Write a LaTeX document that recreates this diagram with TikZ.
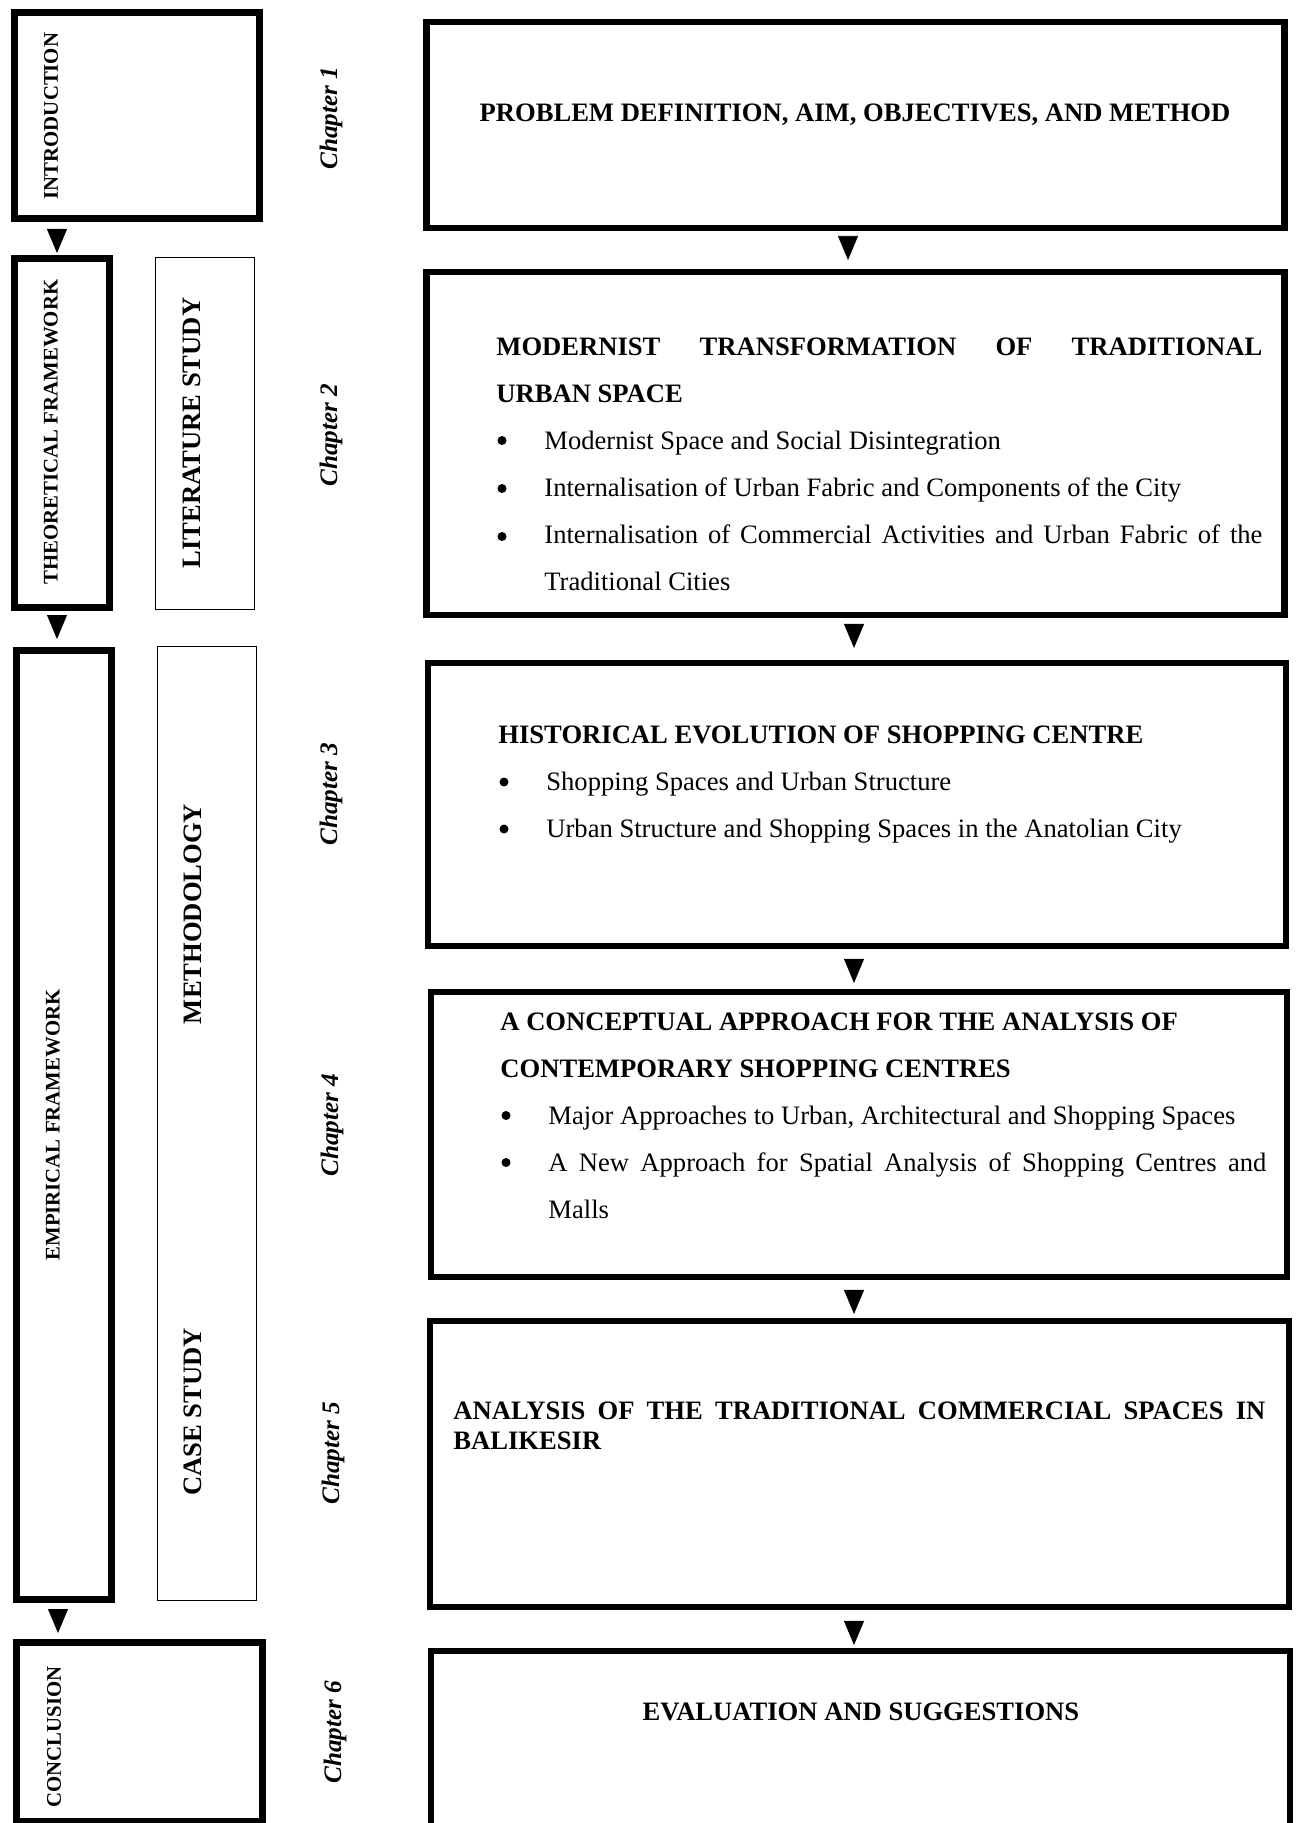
\documentclass[tikz,border=0pt]{standalone}
\usepackage{fontspec}
\setmainfont{Liberation Serif}
\usetikzlibrary{arrows.meta,fit}
\newcommand{\bulletline}[1]{\par\noindent\hspace*{24pt}\parbox[t]{359pt}{\fontsize{13.3}{23.5}\selectfont #1}}

\begin{document}
\begin{tikzpicture}[x=0.5pt,y=0.5pt,yscale=-1,xscale=1,
  heavybox/.style={draw,line width=3.6pt,inner sep=0pt},
  thickbox/.style={draw,line width=3.25pt,inner sep=0pt},
  thinbox/.style={draw,line width=0.6pt,inner sep=0pt},
  sidelbl/.style={rotate=90,inner sep=0pt,font=\bfseries\fontsize{10.4}{12}\selectfont},
  partlbl/.style={rotate=90,inner sep=0pt,font=\bfseries\fontsize{13.3}{15}\selectfont},
  chaplbl/.style={rotate=90,inner sep=0pt,font=\bfseries\itshape\fontsize{12.6}{15}\selectfont},
  boxhead/.style={anchor=base,inner sep=0pt,font=\bfseries\fontsize{13.3}{15}\selectfont},
  boxbody/.style={anchor=base west,inner sep=0pt,text width=383pt,align=justify,
    execute at begin node={\parindent=0pt},font=\fontsize{13.3}{23.5}\selectfont},
  flowarrow/.style 2 args={-{Triangle[length=12pt,width=10pt]},line width=0.4pt,shorten <=#1,shorten >=#2}]
\useasboundingbox (0,0) rectangle (1295,1823);

\node[heavybox,fit={(14.6,12.6) (259.4,218.4)}] (intro) {};
\node[heavybox,fit={(14.6,258.6) (109.4,607.4)}] (theo) {};
\node[heavybox,fit={(16.6,650.6) (111.4,1599.4)}] (emp) {};
\node[heavybox,fit={(16.6,1642.6) (262.4,1821.4)}] (concl) {};
\node[thinbox,fit={(155.6,257.6) (254.4,609.4)}] (lit) {};
\node[thinbox,fit={(157.6,646.6) (256.4,1600.4)}] (meth) {};

\node[sidelbl] (introlbl) at (51,116) {INTRODUCTION};
\node[sidelbl] (theolbl) at (51,432) {THEORETICAL FRAMEWORK};
\node[sidelbl] (emplbl) at (53,1125) {EMPIRICAL FRAMEWORK};
\node[sidelbl] (concllbl) at (54,1737) {CONCLUSION};
\node[partlbl] (litlbl) at (192,433) {LITERATURE STUDY};
\node[partlbl] (methlbl) at (193,914) {METHODOLOGY};
\node[partlbl] (caselbl) at (193,1412) {CASE STUDY};

\node[chaplbl] (ch1) at (331,118) {Chapter 1};
\node[chaplbl] (ch2) at (331,435) {Chapter 2};
\node[chaplbl] (ch3) at (331,794) {Chapter 3};
\node[chaplbl] (ch4) at (332,1125) {Chapter 4};
\node[chaplbl] (ch5) at (333,1453) {Chapter 5};
\node[chaplbl] (ch6) at (335,1732) {Chapter 6};

\node[thickbox,fit={(426.5,22) (1284.5,228)}] (r1) {};
\node[thickbox,fit={(426.5,272) (1284.5,615)}] (r2) {};
\node[thickbox,fit={(428,663) (1286,946)}] (r3) {};
\node[thickbox,fit={(431,992) (1287,1277)}] (r4) {};
\node[thickbox,fit={(430,1321) (1289,1607)}] (r5) {};
\node[thickbox,fit={(431,1651) (1290,1840)}] (r6) {};

\node[boxhead] (t1) at (855,122) {PROBLEM DEFINITION, AIM, OBJECTIVES, AND METHOD};
\node[boxbody] (t2) at (496,356) {{\bfseries MODERNIST TRANSFORMATION OF TRADITIONAL\linebreak URBAN SPACE}
  \bulletline{Modernist Space and Social Disintegration}
  \bulletline{Internalisation of Urban Fabric and Components of the City}
  \bulletline{Internalisation of Commercial Activities and Urban Fabric of the\linebreak Traditional Cities}};
\node[boxbody] (t3) at (498,743.5) {{\bfseries HISTORICAL EVOLUTION OF SHOPPING CENTRE}
  \bulletline{Shopping Spaces and Urban Structure}
  \bulletline{Urban Structure and Shopping Spaces in the Anatolian City}};
\node[boxbody] (t4) at (500,1030) {{\bfseries A CONCEPTUAL APPROACH FOR THE ANALYSIS OF\newline CONTEMPORARY SHOPPING CENTRES}
  \bulletline{Major Approaches to Urban, Architectural and Shopping Spaces}
  \bulletline{A New Approach for Spatial Analysis of Shopping Centres and\linebreak Malls}};
\node[boxbody,text width=406pt,font=\bfseries\fontsize{13.3}{15}\selectfont] (t5) at (453,1419) {ANALYSIS OF THE TRADITIONAL COMMERCIAL SPACES IN\linebreak BALIKESIR};
\node[boxhead] (t6) at (861,1720) {EVALUATION AND SUGGESTIONS};

\foreach \bx/\by in {502/440.5,502/488.5,502/536.5,504/782,504/829,506/1115.5,506/1162.5}
  \fill (\bx,\by) circle (4.5);

\draw[flowarrow={3.5pt}{1pt}] ([xshift=-2.5pt]theo.north |- intro.south) -- ([xshift=-2.5pt]theo.north);
\draw[flowarrow={2pt}{4pt}] ([xshift=-2.5pt]theo.south) -- ([xshift=-2.5pt]theo.south |- emp.north);
\draw[flowarrow={3pt}{3pt}] ([xshift=-3pt]emp.south) -- ([xshift=-3pt]emp.south |- concl.north);

\draw[flowarrow={2.4pt}{4.4pt}] ([xshift=-3.75pt]r1.south) -- ([xshift=-3.75pt]r1.south |- r2.north);
\draw[flowarrow={2.9pt}{5.9pt}] ([xshift=-0.75pt]r2.south) -- ([xshift=-0.75pt]r2.south |- r3.north);
\draw[flowarrow={4.9pt}{2.9pt}] ([xshift=-1.5pt]r3.south) -- ([xshift=-1.5pt]r3.south |- r4.north);
\draw[flowarrow={4.9pt}{1.9pt}] ([xshift=-2.5pt]r4.south) -- ([xshift=-2.5pt]r4.south |- r5.north);
\draw[flowarrow={5.4pt}{1.4pt}] ([xshift=-2.75pt]r5.south) -- ([xshift=-2.75pt]r5.south |- r6.north);
\end{tikzpicture}
\end{document}
